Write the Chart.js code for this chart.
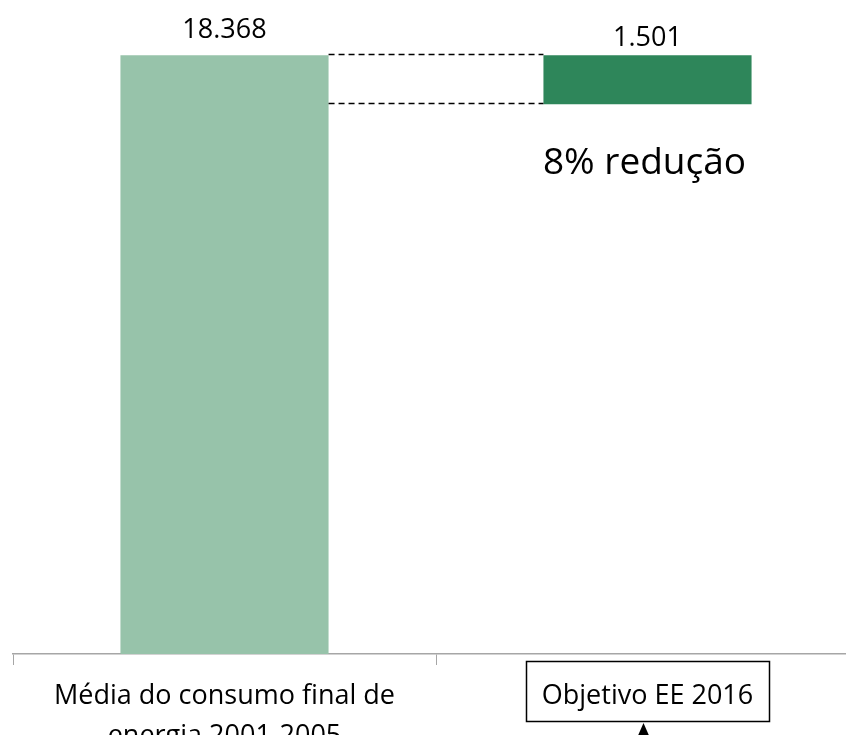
<!DOCTYPE html>
<html lang="pt">
<head>
  <meta charset="UTF-8" />
  <title>Objetivo EE 2016</title>
  <script src="https://cdn.jsdelivr.net/npm/chart.js"></script>
  <style>
    html, body { margin: 0; padding: 0; background: #fff; overflow: hidden; }
    .chart-container { position: relative; width: 872px; height: 767px; }
  </style>
</head>
<body>
  <div class="chart-container"><canvas id="waterfall"></canvas></div>

  <script>
    // dados
    const categorias = [['Média do consumo final de', 'energia 2001-2005'], 'Objetivo EE 2016'];
    const consumoMedio = 18368;
    const reducao = 1501;
    const coresBarras = ['#97c3aa', '#2e865a'];
    const yMax = 20000;

    const FONTE = "'Open Sans', sans-serif";
    Chart.defaults.font.family = FONTE;
    Chart.defaults.color = '#000';

    function formatar(v) {
      return String(v).replace(/\B(?=(\d{3})+(?!\d))/g, '.');
    }

    const dadosBarras = [[0, consumoMedio], [consumoMedio - reducao, consumoMedio]];
    const rotulos = [formatar(consumoMedio), formatar(reducao)];
    const pct = Math.round(reducao / consumoMedio * 100) + '% redução';

    const anotacoes = {
      id: 'anotacoes',
      afterDatasetsDraw(chart) {
        const ctx = chart.ctx;
        const y = chart.scales.y;
        const barras = chart.getDatasetMeta(0).data;
        const b1 = barras[0], b2 = barras[1];

        // linhas tracejadas
        ctx.save();
        ctx.strokeStyle = '#000';
        ctx.lineWidth = 1.6;
        ctx.setLineDash([6, 4]);
        [consumoMedio, consumoMedio - reducao].forEach(v => {
          const py = Math.round(y.getPixelForValue(v)) - 0.5;
          ctx.beginPath();
          ctx.moveTo(b1.x + b1.width / 2, py);
          ctx.lineTo(b2.x - b2.width / 2, py);
          ctx.stroke();
        });
        ctx.restore();

        // rótulos dos valores
        ctx.save();
        ctx.fillStyle = '#000';
        ctx.textAlign = 'center';
        ctx.textBaseline = 'alphabetic';
        ctx.font = '27px ' + FONTE;
        const desloc = [17, 9];
        barras.forEach((b, i) => {
          ctx.fillText(rotulos[i], b.x, y.getPixelForValue(consumoMedio) - desloc[i]);
        });
        ctx.font = '37px ' + FONTE;
        ctx.fillText(pct, b2.x - 3, 174);
        ctx.restore();
      },
      afterDraw(chart) {
        const ctx = chart.ctx;
        const x = chart.scales.x;
        const cx = x.getPixelForTick(1);
        const meio = x.top + 11 + 11 + 20;
        ctx.save();
        ctx.font = '27px ' + FONTE;
        const w = ctx.measureText(categorias[1]).width;
        ctx.strokeStyle = '#000';
        ctx.lineWidth = 1.5;
        ctx.strokeRect(Math.round(cx - w / 2 - 16) + 0.5, Math.round(meio - 35) + 0.5, Math.round(w + 32), 60);

        // seta
        const ax = cx - 4;
        const ponta = meio + 27;
        ctx.fillStyle = '#000';
        ctx.beginPath();
        ctx.moveTo(ax, ponta);
        ctx.lineTo(ax - 7, ponta + 16);
        ctx.lineTo(ax + 7, ponta + 16);
        ctx.closePath();
        ctx.fill();
        ctx.lineWidth = 2;
        ctx.beginPath();
        ctx.moveTo(ax, ponta + 10);
        ctx.lineTo(ax, chart.height);
        ctx.stroke();
        ctx.restore();
      }
    };

    new Chart(document.getElementById('waterfall'), {
      type: 'bar',
      data: {
        labels: categorias,
        datasets: [{
          data: dadosBarras,
          backgroundColor: coresBarras,
          borderWidth: 0,
          categoryPercentage: 1,
          barPercentage: 0.492
        }]
      },
      options: {
        responsive: true,
        maintainAspectRatio: false,
        animation: false,
        layout: { padding: { left: 13, right: 13, top: 2, bottom: 0 } },
        plugins: { legend: { display: false }, tooltip: { enabled: false } },
        scales: {
          x: {
            grid: { drawOnChartArea: false, drawTicks: true, tickLength: 11, color: '#a6a6a6' },
            border: { display: true, color: '#a6a6a6', width: 1.5 },
            ticks: { font: { size: 27, lineHeight: 40 / 27 }, color: '#000', padding: 11, maxRotation: 0, autoSkip: false }
          },
          y: { display: false, min: 0, max: yMax }
        }
      },
      plugins: [anotacoes]
    });
  </script>
</body>
</html>
